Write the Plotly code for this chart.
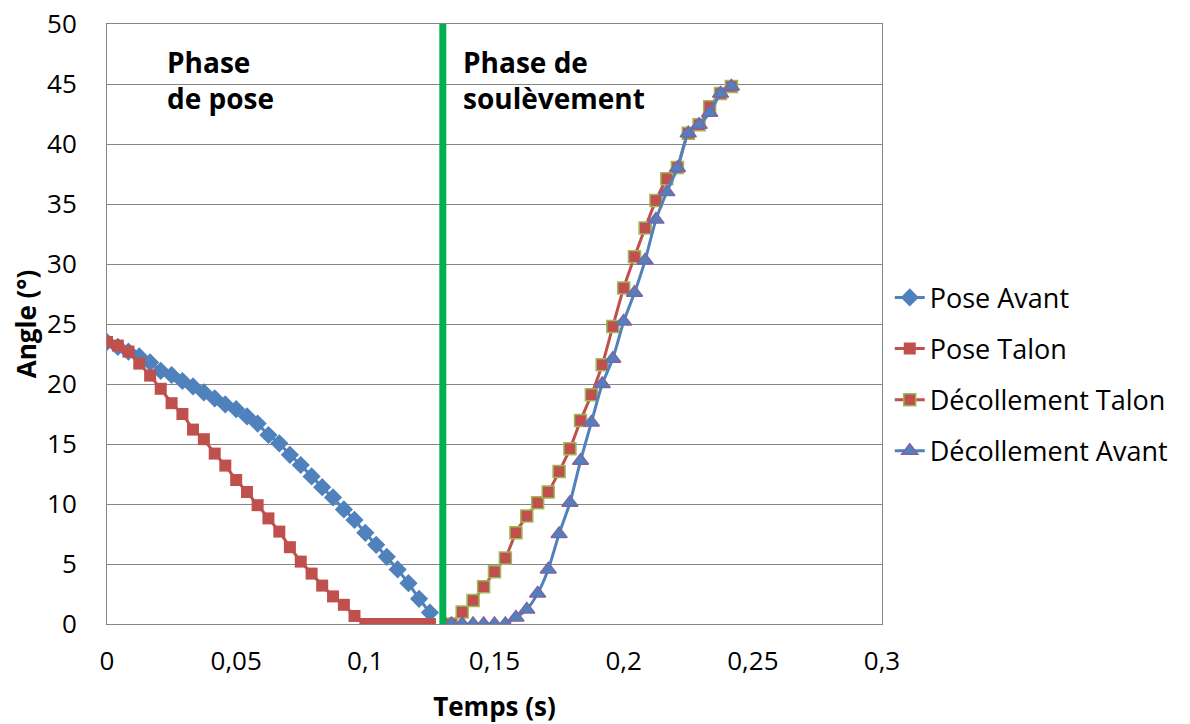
import plotly.graph_objects as go

# ---------------------------------------------------------------------------
# Data (read off the reference chart, sampled every 1/240 s)
# ---------------------------------------------------------------------------
t_pose = [0, 0.0042, 0.0083, 0.0125, 0.0167, 0.0208, 0.025, 0.0292, 0.0333, 0.0375,
          0.0417, 0.0458, 0.05, 0.0542, 0.0583, 0.0625, 0.0667, 0.0708, 0.075, 0.0792,
          0.0833, 0.0875, 0.0917, 0.0958, 0.1, 0.1042, 0.1083, 0.1125, 0.1167, 0.1208,
          0.125]
pose_avant = [23.5, 23.1, 22.7, 22.3, 21.8, 21.1, 20.75, 20.25, 19.8, 19.3,
              18.8, 18.3, 17.9, 17.3, 16.7, 15.75, 15.06, 14.1, 13.25, 12.3,
              11.4, 10.55, 9.55, 8.67, 7.6, 6.6, 5.6, 4.55, 3.4, 2.1,
              0.95]
pose_talon = [23.5, 23.2, 22.7, 21.7, 20.7, 19.6, 18.4, 17.5, 16.2, 15.4,
              14.2, 13.2, 12.0, 11.0, 9.9, 8.8, 7.7, 6.4, 5.2, 4.2,
              3.2, 2.3, 1.6, 0.67, 0, 0, 0, 0, 0, 0,
              0]

t_decol = [0.1333, 0.1375, 0.1417, 0.1458, 0.15, 0.1542, 0.1583, 0.1625, 0.1667,
           0.1708, 0.175, 0.1792, 0.1833, 0.1875, 0.1917, 0.1958, 0.2, 0.2042,
           0.2083, 0.2125, 0.2167, 0.2208, 0.225, 0.2292, 0.2333, 0.2375, 0.2417]
decol_talon = [0, 1.0, 1.95, 3.1, 4.36, 5.5, 7.6, 9.0, 10.1,
               11.0, 12.7, 14.6, 16.95, 19.1, 21.6, 24.8, 28.0, 30.6,
               33.0, 35.3, 37.1, 38.05, 40.9, 41.6, 43.1, 44.2, 44.8]
decol_avant = [0, 0, 0, 0, 0, 0, 0.55, 1.2, 2.55,
               4.55, 7.5, 10.1, 13.6, 16.8, 20.0, 22.1, 25.2, 27.6,
               30.3, 33.7, 36.0, 38.0, 40.9, 41.6, 42.6, 44.2, 44.8]

phase_split = 0.13  # vertical separator between the two phases

x_ticks = [0, 0.05, 0.1, 0.15, 0.2, 0.25, 0.3]
x_tick_labels = ["0", "0,05", "0,1", "0,15", "0,2", "0,25", "0,3"]
y_ticks = [0, 5, 10, 15, 20, 25, 30, 35, 40, 45, 50]

# ---------------------------------------------------------------------------
# Styles
# ---------------------------------------------------------------------------
BLUE = "#4F81BD"
RED = "#C0504D"
OLIVE = "#9BBB59"
PURPLE = "#8064A2"
GREEN = "#00B050"
FONT = "Open Sans"

fig = go.Figure()

fig.add_trace(go.Scatter(
    x=t_pose, y=pose_avant, name="Pose Avant", mode="lines+markers",
    legendgroup="a",
    line=dict(color=BLUE, width=3),
    marker=dict(symbol="diamond", size=14, color=BLUE),
))
fig.add_trace(go.Scatter(
    x=t_pose, y=pose_talon, name="Pose Talon", mode="lines+markers",
    legendgroup="b",
    line=dict(color=RED, width=3),
    marker=dict(symbol="square", size=12, color=RED),
))
fig.add_trace(go.Scatter(
    x=t_decol, y=decol_talon, name="Décollement Talon", mode="lines+markers",
    legendgroup="c",
    line=dict(color=RED, width=3, shape="spline", smoothing=0.6),
    marker=dict(symbol="square", size=12, color=RED,
                line=dict(color=OLIVE, width=1.5)),
))
fig.add_trace(go.Scatter(
    x=t_decol, y=decol_avant, name="Décollement Avant", mode="lines+markers",
    legendgroup="d",
    line=dict(color=BLUE, width=3, shape="spline", smoothing=0.6),
    marker=dict(symbol="triangle-up", size=14, color=BLUE,
                line=dict(color=PURPLE, width=1.5)),
))

# Phase separator
fig.add_shape(
    type="line", xref="x", yref="y",
    x0=phase_split, x1=phase_split, y0=0, y1=50,
    line=dict(color=GREEN, width=7), layer="above",
)

# Phase labels
fig.add_annotation(
    x=0.0225, y=48.6, xref="x", yref="y", xanchor="left", yanchor="top",
    text="<b>Phase<br>de pose</b>", showarrow=False, align="left",
    font=dict(family=FONT, size=28, color="black"),
)
fig.add_annotation(
    x=0.137, y=48.6, xref="x", yref="y", xanchor="left", yanchor="top",
    text="<b>Phase de<br>soulèvement</b>", showarrow=False, align="left",
    font=dict(family=FONT, size=28, color="black"),
)

fig.update_layout(
    width=1190, height=724,
    margin=dict(l=107, r=308, t=24, b=100, autoexpand=False),
    paper_bgcolor="white", plot_bgcolor="white",
    font=dict(family=FONT, size=26, color="black"),
    separators=", ",
    showlegend=True,
    legend=dict(
        x=1.01, y=0.416, xanchor="left", yanchor="middle",
        font=dict(family=FONT, size=27, color="black"),
        tracegroupgap=13, traceorder="grouped",
        bgcolor="rgba(0,0,0,0)",
    ),
)

fig.update_xaxes(
    range=[0, 0.3], tickvals=x_ticks, ticktext=x_tick_labels,
    showgrid=False, zeroline=False, automargin=False,
    showline=True, linecolor="#868686", linewidth=1, mirror=True,
    ticks="", ticklabelstandoff=14, ticklabeloverflow="allow",
    tickfont=dict(family=FONT, size=26, color="black"),
    title=dict(text="<b>Temps (s)</b>", standoff=21,
               font=dict(family=FONT, size=26, color="black")),
)
fig.update_yaxes(
    range=[0, 50], tickvals=y_ticks,
    showgrid=True, gridcolor="#868686", gridwidth=1, zeroline=False,
    automargin=False,
    showline=True, linecolor="#868686", linewidth=1, mirror=True,
    ticks="", ticklabelstandoff=24, ticklabeloverflow="allow",
    tickfont=dict(family=FONT, size=26, color="black"),
    title=dict(text="<b>Angle (°)</b>", standoff=2,
               font=dict(family=FONT, size=26, color="black")),
)

# drop the default page margin so the figure sits at the window's corner
fig.write_html(
    "out.html",
    config={"displayModeBar": False},
    post_script="document.body.style.margin = '0';",
)
